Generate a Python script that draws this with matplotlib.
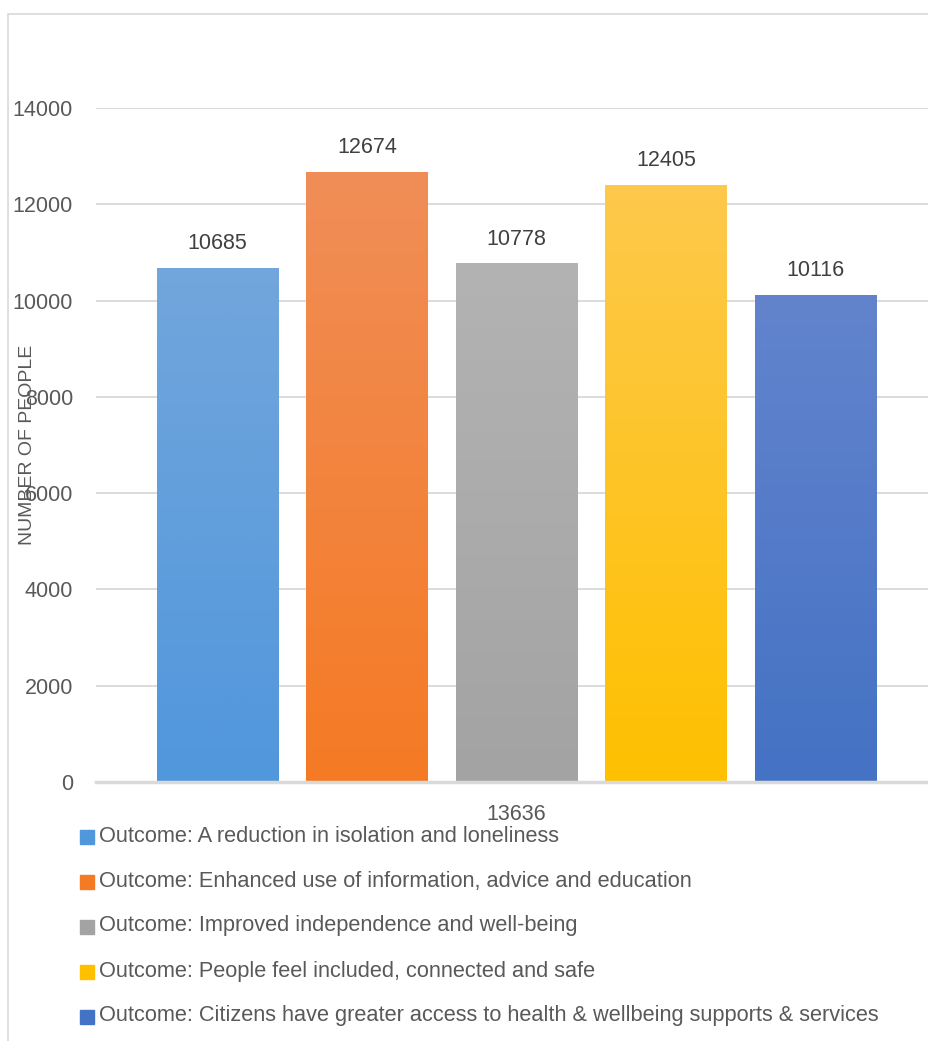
import matplotlib.pyplot as plt
import numpy as np
from matplotlib.colors import LinearSegmentedColormap
from matplotlib.patches import Rectangle

plt.rcParams["font.family"] = ["Liberation Sans", "DejaVu Sans"]

outcomes = [
    "Outcome: A reduction in isolation and loneliness",
    "Outcome: Enhanced use of information, advice and education",
    "Outcome: Improved independence and well-being",
    "Outcome: People feel included, connected and safe",
    "Outcome: Citizens have greater access to health & wellbeing supports & services",
]
people = [10685, 12674, 10778, 12405, 10116]
category = "13636"
yticks = [0, 2000, 4000, 6000, 8000, 10000, 12000, 14000]

top_colors = ["#72a6dc", "#f08e58", "#b3b3b3", "#fdc94c", "#6384cd"]
base_colors = ["#5197dc", "#f57a24", "#a3a3a3", "#ffc000", "#4472c4"]

W, H = 929, 1041
fig = plt.figure(figsize=(W / 100, H / 100), dpi=100)

# outer chart border (only top and left visible in the crop)
fig.patches.append(Rectangle((8 / W, -0.1), 1.2, (H - 14) / H + 0.1,
                             transform=fig.transFigure, fill=False,
                             ec="#d9d9d9", lw=1.2))

ax = fig.add_axes([96 / W, 1 - 782 / H, (937 - 96) / W, (782 - 108) / H])
width = 0.81

for i, (v, ct, cb) in enumerate(zip(people, top_colors, base_colors)):
    bar = ax.bar(i, v, width=width, color=cb, zorder=2)[0]
    cmap = LinearSegmentedColormap.from_list(f"g{i}", [cb, ct])
    grad = np.linspace(0, 1, 256).reshape(-1, 1)
    im = ax.imshow(grad, extent=(i - width / 2, i + width / 2, 0, v),
                   origin="lower", aspect="auto", cmap=cmap, zorder=3)
    im.set_clip_path(bar)
    ax.text(i, v + 500, str(v), ha="center", va="center",
            fontsize=15.5, color="#404040", zorder=4)

ax.set_ylim(0, 14000)
ax.set_xlim(-0.813, len(people) - 1 + 0.813)
ax.set_yticks(yticks)
ax.set_yticklabels([str(t) for t in yticks], fontsize=15.5, color="#595959")
ax.tick_params(axis="y", length=0, pad=16.5)
ax.set_xticks([])
ax.grid(axis="y", color="#d9d9d9", lw=1.3, zorder=0)
for s in ["top", "right", "left"]:
    ax.spines[s].set_visible(False)
ax.spines["bottom"].set_color("#d9d9d9")
ax.spines["bottom"].set_linewidth(2.5)
ax.spines["bottom"].set_zorder(5)

fig.text(516 / W, 1 - 815 / H, category, ha="center", va="center",
         fontsize=15.5, color="#595959")
fig.text(28 / W, 1 - 445 / H, "NUMBER OF PEOPLE", rotation=90,
         ha="center", va="center", fontsize=14, color="#595959")

# legend
rows = [836, 881, 926, 971, 1016]
for name, c, y in zip(outcomes, base_colors, rows):
    fig.patches.append(Rectangle((80 / W, 1 - (y + 8) / H), 14 / W, 14 / H,
                                 transform=fig.transFigure, color=c))
    fig.text(99 / W, 1 - y / H, name, ha="left", va="center",
             fontsize=15.7, color="#595959")

fig.savefig("out.png", dpi=100)
